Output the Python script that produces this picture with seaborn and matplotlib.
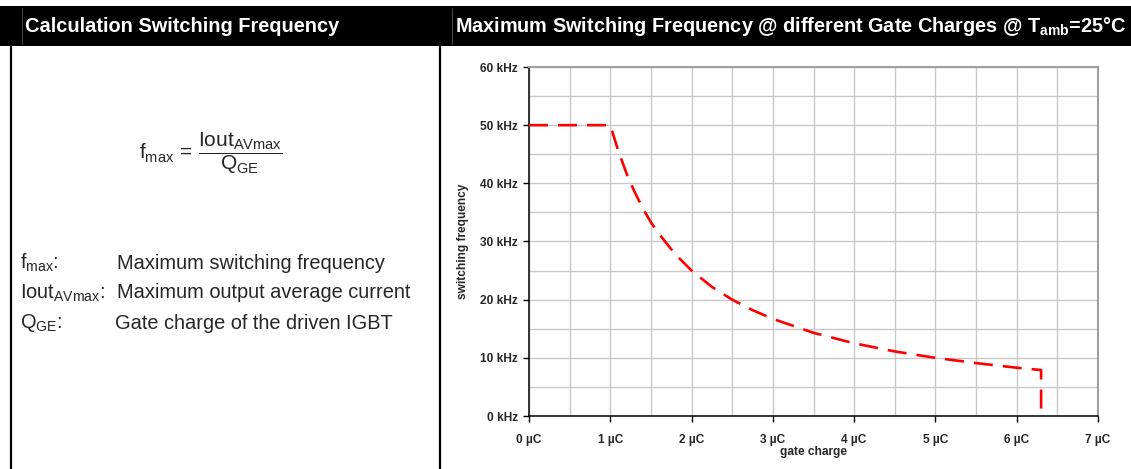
import numpy as np
import matplotlib
matplotlib.use("Agg")
import matplotlib.pyplot as plt
import seaborn as sns
from matplotlib.patches import Rectangle
from matplotlib.lines import Line2D
from matplotlib.ticker import MultipleLocator, FuncFormatter

# data (gate charge in uC, frequency in kHz)
gate_charge = [0, 1.0, 1.1, 1.2, 1.3, 1.4, 1.5, 1.6, 1.8, 2.0, 2.25, 2.5, 2.75, 3.0, 3.5,
               4.0, 4.5, 5.0, 5.5, 6.0, 6.3, 6.3]
switch_freq = [50, 50, 45.5, 41.7, 38.5, 35.7, 33.3, 31.3, 27.8, 25, 22.2, 20, 18.2, 16.7, 14.3,
               12.5, 11.1, 10, 9.1, 8.3, 7.9, 0]

left_title = "Calculation Switching Frequency"
right_title = r"Maximum Switching Frequency @ different Gate Charges @ T$_{\mathregular{amb}}$=25°C"
def_symbols = [r"f$_{\mathregular{max}}$:", r"Iout$_{\mathregular{AVmax}}$:", r"Q$_{\mathregular{GE}}$:"]
def_texts = ["Maximum switching frequency", "Maximum output average current", "Gate charge of the driven IGBT"]

sns.set_style("white")
plt.rcParams["font.family"] = ["Liberation Sans", "DejaVu Sans"]
plt.rcParams["mathtext.fontset"] = "custom"
plt.rcParams["mathtext.rm"] = "Liberation Sans"
plt.rcParams["mathtext.it"] = "Liberation Sans"
plt.rcParams["mathtext.bf"] = "Liberation Sans:bold"

fig = plt.figure(figsize=(11.31, 4.69), dpi=100)
W, H = 1131, 469
def fx(px): return px / W
def fy(py): return 1 - py / H

# header bar and frame lines
fig.patches.append(Rectangle((0, fy(46)), 1, fy(6) - fy(46), transform=fig.transFigure,
                             facecolor="black", edgecolor="none", zorder=0))
for xp in [22, 452]:
    fig.lines.append(Line2D([fx(xp), fx(xp)], [fy(8), fy(44)], transform=fig.transFigure,
                            color="#555555", lw=0.6))
for xp in [11, 440]:
    fig.lines.append(Line2D([fx(xp), fx(xp)], [fy(47), 0], transform=fig.transFigure,
                            color="black", lw=1.6))

fig.text(fx(25), fy(26), left_title, color="white", fontsize=14.4, fontweight="bold", va="center")
fig.text(fx(455), fy(26), right_title, color="white", fontsize=14.3, fontweight="bold", va="center")

# formula
fig.text(fx(211), fy(153), r"$\mathregular{f_{max}} \,=\, \dfrac{\mathregular{Iout_{AV max}}}{\mathregular{Q_{GE}}}$",
         fontsize=15, ha="center", va="center")

# definitions
for i, (sym, txt) in enumerate(zip(def_symbols, def_texts)):
    y = fy(263 + i * 30)
    fig.text(fx(20), y, sym, fontsize=14.4, va="center")
    fig.text(fx(117 if i < 2 else 115), y, txt, fontsize=14.4, va="center")

# chart
ax = fig.add_axes([fx(529), fy(416), fx(1098) - fx(529), fy(67) - fy(416)])
sns.lineplot(x=gate_charge, y=switch_freq, ax=ax, color="red", lw=1.9, sort=False,
             estimator=None, linestyle=(0, (7.2, 3.8)), zorder=3)
ax.set_xlim(0, 7)
ax.set_ylim(0, 60)
ax.xaxis.set_major_locator(MultipleLocator(1))
ax.xaxis.set_minor_locator(MultipleLocator(0.5))
ax.yaxis.set_major_locator(MultipleLocator(10))
ax.yaxis.set_minor_locator(MultipleLocator(5))
ax.xaxis.set_major_formatter(FuncFormatter(lambda v, p: f"{v:.0f} µC"))
ax.yaxis.set_major_formatter(FuncFormatter(lambda v, p: f"{v:.0f} kHz"))
ax.grid(True, which="both", color="#c8c8c8", lw=1.0)
ax.set_axisbelow(True)
ax.tick_params(axis="both", which="major", direction="out", length=4, width=1, color="black",
               labelsize=8.6, bottom=True, left=True)
ax.tick_params(axis="x", which="major", pad=9)
ax.tick_params(axis="y", which="major", pad=4)
ax.tick_params(axis="both", which="minor", length=0)
for lab in ax.get_xticklabels() + ax.get_yticklabels():
    lab.set_fontweight("bold")
for s in ["left", "bottom"]:
    ax.spines[s].set_color("black")
    ax.spines[s].set_linewidth(1.1)
for s in ["top", "right"]:
    ax.spines[s].set_color("#a0a0a0")
    ax.spines[s].set_linewidth(1.5)
ax.set_xlabel("gate charge", fontsize=8.6, fontweight="bold", labelpad=0)
ax.set_ylabel("switching frequency", fontsize=8.6, fontweight="bold", labelpad=8)

fig.savefig("out.png", dpi=100)
